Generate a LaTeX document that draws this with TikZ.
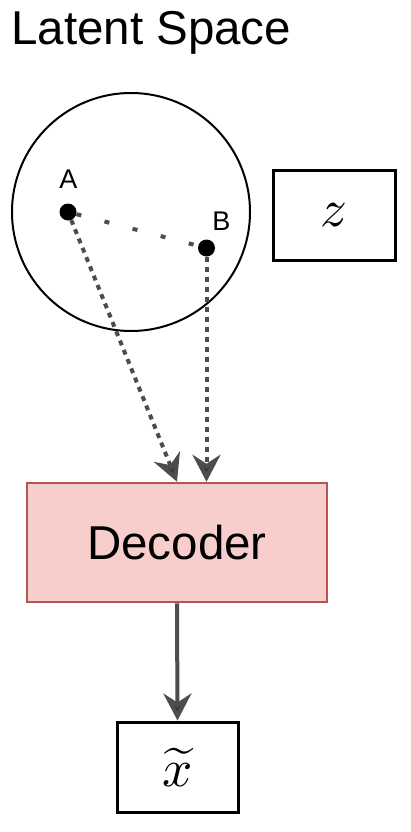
\documentclass[tikz,border=0pt]{standalone}
\usepackage{fontspec}
\usepackage{graphicx}
\setmainfont{Liberation Sans}
\usetikzlibrary{arrows.meta}
\definecolor{dgray}{HTML}{4D4D4D}
\definecolor{tipfill}{HTML}{3A3A3A}
\definecolor{decfill}{HTML}{F8CECC}
\definecolor{decdraw}{HTML}{B85450}
\begin{document}
\begin{tikzpicture}[x=1pt,y=-1pt,
  box/.style={draw=black, line width=3pt, fill=white, inner sep=0pt},
  pnt/.style={circle, fill=black, minimum size=17pt, inner sep=0pt},
  lbl/.style={font=\fontsize{27}{30}\selectfont, anchor=base, inner sep=0pt},
  dotline/.style={draw=dgray, line width=4pt, dash pattern=on 5pt off 5pt},
  sparse/.style={draw=dgray, line width=4pt, dash pattern=on 5pt off 24pt},
  tip/.style={-{Stealth[length=27pt,width=28pt,inset=9pt,fill=tipfill]}},
]
\useasboundingbox (0,0) rectangle (410,832);
% title
\node[anchor=base west, inner sep=0pt, font=\fontsize{47.5}{52}\selectfont] (title) at (11,45) {Latent Space};
% latent circle
\node[circle, draw=black, line width=2pt, minimum size=238pt, inner sep=0pt] (space) at (131,212) {};
% points
\node[pnt] (A) at (68,212) {};
\node[pnt] (B) at (206.5,248) {};
\node[lbl] (Alab) at (68.5,188) {A};
\node[lbl] (Blab) at (221.5,230) {B};
% z box
\node[box, minimum width=122pt, minimum height=90pt] (z) at (334,215) {\scalebox{5.3}{$z$}};
% decoder
\node[draw=decdraw, fill=decfill, line width=2.5pt, minimum width=300pt, minimum height=119pt, inner sep=0pt, font=\fontsize{47.5}{52}\selectfont] (dec) at (177,542.5) {Decoder};
% output
\node[box, minimum width=121pt, minimum height=90pt] (xt) at (177.5,767) {\scalebox{5.3}{$\widetilde{x}$}};
% connectors
\draw[sparse] (A) -- (B);
\draw[dotline, tip] (A) -- (dec.north);
\draw[dotline, tip] (B) -- (B |- dec.north);
\draw[draw=dgray, line width=4pt, tip] (dec.south) -- (xt.north);
\end{tikzpicture}
\end{document}
